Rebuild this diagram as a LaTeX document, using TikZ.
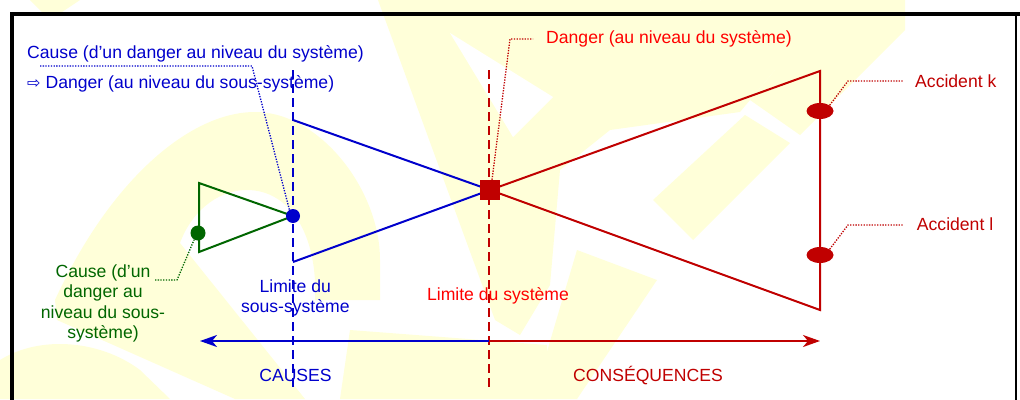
\documentclass[tikz,border=0pt]{standalone}
\usepackage{fontspec}
\setmainfont{Liberation Sans}
\newfontfamily\dejavu{DejaVu Sans}
\usetikzlibrary{arrows.meta,shapes.geometric}
\definecolor{cblue}{RGB}{0,0,204}
\definecolor{cdred}{RGB}{192,0,0}
\definecolor{cred}{RGB}{255,0,0}
\definecolor{cgreen}{RGB}{0,102,0}
\definecolor{wmy}{RGB}{255,255,217}
\begin{document}
\begin{tikzpicture}[x=1pt,y=-1pt,
  wm/.style={fill=wmy},
  lbl/.style={inner sep=0pt, font=\fontsize{17.6}{20.3}\selectfont},
  leader/.style={line width=1.3pt, dash pattern=on 1.3pt off 1.4pt},
  limit/.style={line width=2pt, dash pattern=on 9pt off 5pt},
  bow/.style={line width=2pt},
  tiparrow/.style={line width=2pt, -{Stealth[length=17pt,width=12pt,inset=5pt]}},
  dot/.style={circle, inner sep=0pt, minimum size=#1},
  accdot/.style={ellipse, fill=cdred, inner sep=0pt, minimum width=27pt, minimum height=16pt},
]
\useasboundingbox (0,0) rectangle (1020,399);
\fill[white] (0,0) rectangle (1020,399);
% watermark
\fill[wm] (30,0) -- (80,0) -- (62,12) -- (42,12) -- cycle;
\fill[wm] (0,399) -- (0,360) .. controls (40,335) and (100,340) .. (140,370) -- (170,399) -- cycle;
\fill[wm] (55,300) .. controls (110,180) and (190,112) .. (255,112)
   .. controls (320,112) and (380,190) .. (380,260) -- (380,300) -- (315,300)
   .. controls (318,235) and (290,190) .. (247,190)
   .. controls (215,190) and (190,215) .. (180,243) -- (305,399) -- (235,399) -- (57,320) -- cycle;
\fill[wm] (350,330) -- (547,345) -- (547,399) -- (340,399) -- cycle;
\fill[wm] (378,0) -- (700,0) -- (770,50) -- (775,70) -- (740,112) -- (610,130)
   -- (560,170) -- (550,285) -- (520,335) -- (495,320) -- cycle;
\fill[white] (450,33) -- (553,97) -- (513,137) -- cycle;
\fill[wm] (700,0) -- (905,0) -- (905,30) -- (800,135) -- (750,100) -- (775,70) -- cycle;
\fill[wm] (653,200) -- (745,115) -- (790,143) -- (693,240) -- cycle;
\fill[wm] (577,250) -- (657,280) -- (577,399) -- (533,399) -- cycle;
% frame
\draw[line width=4pt] (11.5,402) -- (11.5,14) -- (1022,14);
\draw[line width=1.5pt] (1016,14) -- (1016,402);
% coordinates
\coordinate (sqc) at (490,190);
\coordinate (bdc) at (293,216);
\coordinate (bt) at (293,120);
\coordinate (bb) at (293,262);
\coordinate (rt) at (820,71);
\coordinate (rb) at (820,310);
\coordinate (gt) at (199,183);
\coordinate (gb) at (199,252);
\coordinate (lbt) at (293,70);
\coordinate (lbb) at (293,388);
\coordinate (lrt) at (489,70);
\coordinate (lrb) at (489,388);
\coordinate (amid) at (489,341);
\coordinate (aleft) at (200,341);
\coordinate (aright) at (820,341);
% limits
\draw[limit,cblue] (lbt) -- (lbb);
\draw[limit,cdred] (lrt) -- (lrb);
% bow ties
\draw[bow,cblue] (bt) -- (sqc) -- (bb);
\draw[bow,cdred] (sqc) -- (rt) -- (rb) -- cycle;
\draw[bow,cgreen] (bdc) -- (gt) -- (gb) -- cycle;
% arrows
\draw[tiparrow,cblue] (amid) -- (aleft);
\draw[tiparrow,cdred] (amid) -- (aright);
% nodes
\node[fill=cdred, minimum size=20pt, inner sep=0pt] (sq) at (sqc) {};
\node[dot=14pt, fill=cblue] (bdot) at (bdc) {};
\node[dot=15pt, fill=cgreen] (gdot) at (198,233) {};
\node[accdot] (ek) at (820,111) {};
\node[accdot] (el) at (820,255) {};
% labels
\node[lbl,cblue,anchor=base west] (causeB) at (27,58.3) {Cause (d’un danger au niveau du système)};
\node[lbl,cblue,anchor=base west] (dangB) at (27,88) {{\dejavu\fontsize{16}{16}\selectfont ⇨}\hspace{5pt}Danger (au niveau du sous-système)};
\node[lbl,cred,anchor=base west] (dang) at (546,43.3) {Danger (au niveau du système)};
\node[lbl,cdred,anchor=base west] (acck) at (915,87.3) {Accident k};
\node[lbl,cdred,anchor=base west] (accl) at (916.7,230.7) {Accident l};
\node[lbl,cgreen,align=center,anchor=base] (causeG) at (103,338.3) {Cause (d’un\\danger au\\niveau du sous-\\système)};
\node[lbl,cblue,align=center,anchor=base] (limB) at (295.3,312.7) {Limite du\\sous-système};
\node[lbl,cred,anchor=base] (limR) at (498,300.7) {Limite du système};
\node[lbl,cblue,anchor=base] (causes) at (295.5,381.7) {CAUSES};
\node[lbl,cdred,anchor=base] (conseq) at (648,381.7) {CONSÉQUENCES};
% leaders
\coordinate (b1) at (40,66);
\coordinate (b2) at (252,66);
\draw[leader,cblue] (b1) -- (b2) -- (bdot.120);
\coordinate (g1) at (155,280);
\coordinate (g2) at (177,280);
\draw[leader,cgreen] (g1) -- (g2) -- (gdot.240);
\coordinate (d1) at (510,39);
\coordinate (d2) at (533,39);
\draw[leader,cdred] ([xshift=2pt]sq.north) -- (d1) -- (d2);
\coordinate (k1) at (848,81);
\coordinate (k2) at (903,81);
\draw[leader,cdred] (ek.north east) -- (k1) -- (k2);
\coordinate (l1) at (848,225);
\coordinate (l2) at (903,225);
\draw[leader,cdred] (el.north east) -- (l1) -- (l2);
\end{tikzpicture}
\end{document}
